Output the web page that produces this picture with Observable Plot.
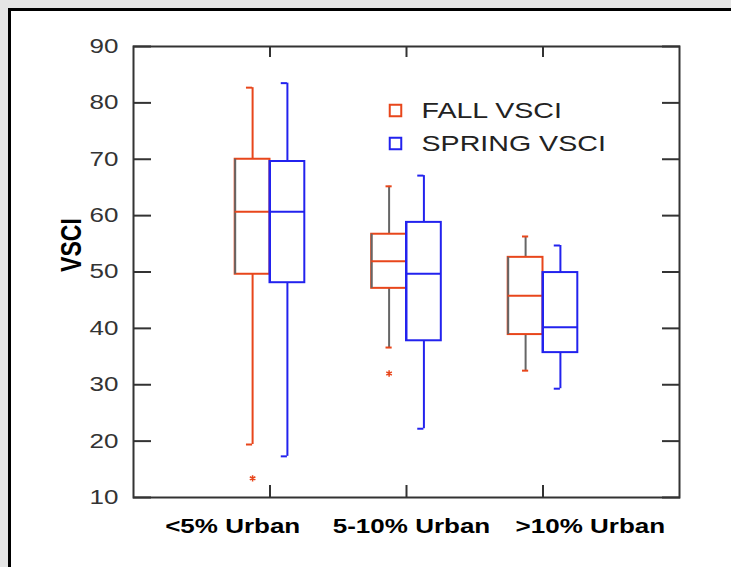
<!DOCTYPE html>
<html>
<head>
<meta charset="utf-8">
<script src="https://cdn.jsdelivr.net/npm/d3@7"></script>
<script src="https://cdn.jsdelivr.net/npm/@observablehq/plot@0.6"></script>
<style>
  html, body { margin: 0; padding: 0; width: 731px; height: 567px; overflow: hidden; background: #e5e5e5; }
  #panel { position: absolute; left: 8px; top: 8px; width: 780px; height: 620px; border: 3px solid #000; background: #fff; }
  #chart { position: absolute; left: 0; top: 0; }
</style>
</head>
<body>
<div id="panel"></div>
<div id="chart"></div>
<script>
// Watershed urbanization classes
const categories = ["<5% Urban", "5-10% Urban", ">10% Urban"];
const seriesNames = ["FALL VSCI", "SPRING VSCI"];

// Fall VSCI box statistics per class
const fallMin    = [19.4, 36.6, 32.5];
const fallQ1     = [49.6, 47.1, 38.9];
const fallMedian = [60.7, 51.9, 45.8];
const fallQ3     = [70.0, 56.7, 52.6];
const fallMax    = [82.7, 65.2, 56.3];

// Spring VSCI box statistics per class
const springMin    = [17.3, 22.2, 29.3];
const springQ1     = [48.1, 37.8, 35.7];
const springMedian = [60.7, 49.7, 40.2];
const springQ3     = [69.6, 58.8, 49.9];
const springMax    = [83.5, 67.1, 54.7];

// Fall outliers
const outlierCategory = ["<5% Urban", "5-10% Urban"];
const outlierValue    = [13.4, 32.0];

const yTicks = [10, 20, 30, 40, 50, 60, 70, 80, 90];

const fallColor = "#e8461b";
const springColor = "#2222ee";
const whiskerGray = "#666666";
const axisColor = "#333333";
const boxWidth = 0.255;   // in category units
const capWidth = 0.045;

const pos = (c) => categories.indexOf(c) + 1;

function boxRows(side, min, q1, median, q3, max) {
  return categories.map((category, i) => {
    const x1 = side === 0 ? i + 1 - boxWidth : i + 1;
    const x2 = x1 + boxWidth;
    return {category, index: i, side, x1, x2, center: (x1 + x2) / 2,
            min: min[i], q1: q1[i], median: median[i], q3: q3[i], max: max[i]};
  });
}

const fall = boxRows(0, fallMin, fallQ1, fallMedian, fallQ3, fallMax);
const spring = boxRows(1, springMin, springQ1, springMedian, springQ3, springMax);
const outliers = outlierCategory.map((category, i) => ({category, value: outlierValue[i]}));

// Fall whiskers are only coloured in the first class; the others are grey with centred caps
const fallWhisker = (d) => d.index === 0 ? fallColor : whiskerGray;
const centredCap = (d) => d.side === 0 && d.index > 0;
const capLeft = (d) => centredCap(d) ? d.center - capWidth / 2 : d.center - capWidth;
const capRight = (d) => centredCap(d) ? d.center + capWidth / 2 : d.center;

function boxMarks(rows, color, whiskerColor, leftEdgeColor) {
  return [
    Plot.ruleX(rows, {x: "center", y1: "q3", y2: "max", stroke: whiskerColor, strokeWidth: 2}),
    Plot.ruleX(rows, {x: "center", y1: "min", y2: "q1", stroke: whiskerColor, strokeWidth: 2}),
    Plot.ruleY(rows, {y: "max", x1: capLeft, x2: capRight, stroke: color, strokeWidth: 2}),
    Plot.ruleY(rows, {y: "min", x1: capLeft, x2: capRight, stroke: color, strokeWidth: 2}),
    Plot.rect(rows, {x1: "x1", x2: "x2", y1: "q1", y2: "q3", fill: "none", stroke: color, strokeWidth: 2}),
    Plot.ruleX(rows, {x: "x1", y1: "q1", y2: "q3", stroke: leftEdgeColor, strokeWidth: 2}),
    Plot.ruleY(rows, {y: "median", x1: "x1", x2: "x2", stroke: color, strokeWidth: 2})
  ];
}

const legendColors = [fallColor, springColor];
const legendMarks = seriesNames.flatMap((name, i) => [
  Plot.dot([name], {frameAnchor: "top-left", dx: 262, dy: 64 + 33 * i, symbol: "square", r: 6.5,
                    fill: "none", stroke: legendColors[i], strokeWidth: 2}),
  Plot.text([name], {frameAnchor: "top-left", dx: 288, dy: 64 + 33 * i, text: (d) => d,
                     textAnchor: "start", lineAnchor: "middle", fontSize: 22, fill: "#222"})
]);

const chart = Plot.plot({
  width: 731,
  height: 567,
  marginLeft: 133,
  marginRight: 52,
  marginTop: 46,
  marginBottom: 70,
  style: {background: "transparent", fontFamily: "'Liberation Sans', Arial, sans-serif"},
  x: {domain: [0, 4], axis: null},
  y: {domain: [10, 90], axis: null},
  marks: [
    // inward ticks on all four sides
    Plot.axisY(yTicks, {anchor: "left", tickSize: -18, fill: "none", stroke: axisColor, strokeWidth: 2}),
    Plot.axisY(yTicks, {anchor: "right", tickSize: -18, fill: "none", stroke: axisColor, strokeWidth: 2}),
    Plot.axisX([1, 2, 3], {anchor: "bottom", tickSize: -12, fill: "none", stroke: axisColor, strokeWidth: 2}),
    Plot.axisX([1, 2, 3], {anchor: "top", tickSize: -10, fill: "none", stroke: axisColor, strokeWidth: 2}),
    Plot.axisY(yTicks, {anchor: "left", tickSize: 0, tickPadding: 15, label: null, fill: axisColor, fontSize: 20}),
    Plot.frame({stroke: axisColor, strokeWidth: 2}),

    ...boxMarks(fall, fallColor, fallWhisker, whiskerGray),
    ...boxMarks(spring, springColor, springColor, springColor),

    Plot.dot(outliers, {x: (d) => pos(d.category) - boxWidth / 2, y: "value", symbol: "asterisk", r: 3,
                        stroke: fallColor, strokeWidth: 1.5}),

    ...legendMarks,

    // class labels under the axis, spread a little wider than the ticks
    Plot.text(categories, {x: (d, i) => 2 + (i - 1) * 1.31, dx: 5, frameAnchor: "bottom", dy: 29,
                           text: (d) => d, lineAnchor: "middle", fontSize: 20, fontWeight: "bold", fill: "#000"}),
    Plot.text(["VSCI"], {frameAnchor: "left", dx: -62, rotate: -90, text: (d) => d,
                         fontSize: 30, fontWeight: "bold", fill: "#000"})
  ]
});

document.getElementById("chart").append(chart);

// Lettering is drawn wide: stretch every label horizontally
const stretch = 1.3;
for (const t of chart.querySelectorAll("text")) {
  const len = t.getComputedTextLength();
  if (!len) continue;
  const rotated = /rotate/.test(t.getAttribute("transform") || "");
  t.setAttribute("textLength", rotated ? len / stretch : len * stretch);
  t.setAttribute("lengthAdjust", "spacingAndGlyphs");
}
</script>
</body>
</html>
